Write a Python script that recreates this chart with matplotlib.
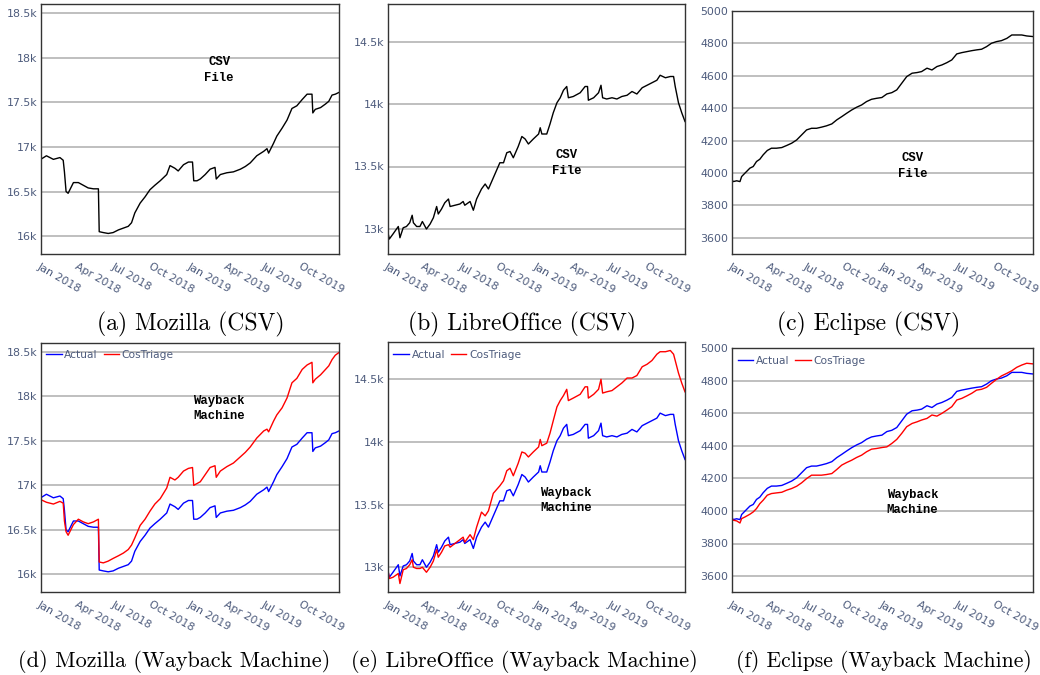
import matplotlib
matplotlib.use("Agg")
import matplotlib.pyplot as plt
import matplotlib.dates as mdates
import pandas as pd

# ---- data ----
moz_dates = ['2018-01-01', '2018-01-15', '2018-02-01', '2018-02-17', '2018-02-25', '2018-02-28',
             '2018-03-04', '2018-03-09', '2018-03-22', '2018-04-03', '2018-04-15', '2018-04-27',
             '2018-05-10', '2018-05-22', '2018-05-24', '2018-06-03', '2018-06-15', '2018-06-27',
             '2018-07-10', '2018-07-22', '2018-08-03', '2018-08-11', '2018-08-19', '2018-09-01',
             '2018-09-13', '2018-09-25', '2018-10-07', '2018-10-20', '2018-11-05', '2018-11-13',
             '2018-11-25', '2018-12-03', '2018-12-16', '2018-12-28', '2019-01-07', '2019-01-10',
             '2019-01-18', '2019-01-26', '2019-02-07', '2019-02-19', '2019-03-03', '2019-03-06',
             '2019-03-16', '2019-04-01', '2019-04-17', '2019-05-04', '2019-05-16', '2019-05-28',
             '2019-06-13', '2019-06-30', '2019-07-08', '2019-07-12', '2019-07-24', '2019-08-01',
             '2019-08-14', '2019-08-26', '2019-09-07', '2019-09-19', '2019-10-02', '2019-10-14',
             '2019-10-26', '2019-10-28', '2019-11-03', '2019-11-16', '2019-11-28', '2019-12-06',
             '2019-12-14', '2019-12-22', '2019-12-31']
moz_actual = [16860, 16900, 16860, 16880, 16850, 16720, 16500, 16480, 16600, 16600, 16570, 16540,
              16530, 16530, 16050, 16040, 16030, 16040, 16070, 16090, 16110, 16150, 16260, 16370,
              16440, 16520, 16570, 16620, 16690, 16790, 16760, 16730, 16800, 16830, 16830, 16620,
              16620, 16640, 16690, 16750, 16770, 16640, 16690, 16710, 16720, 16750, 16780, 16820,
              16900, 16950, 16980, 16930, 17040, 17120, 17210, 17300, 17430, 17460, 17530, 17590,
              17590, 17380, 17420, 17440, 17480, 17510, 17580, 17590, 17610]
moz_costriage = [16840, 16810, 16790, 16820, 16800, 16600, 16480, 16440, 16560, 16620, 16590, 16570,
                 16590, 16620, 16140, 16130, 16150, 16180, 16210, 16240, 16280, 16330, 16410, 16550,
                 16620, 16710, 16790, 16850, 16970, 17090, 17060, 17090, 17160, 17190, 17200, 17000,
                 17020, 17040, 17120, 17200, 17220, 17090, 17160, 17210, 17250, 17320, 17370, 17430,
                 17530, 17610, 17630, 17600, 17720, 17790, 17870, 17980, 18150, 18200, 18300, 18350,
                 18380, 18150, 18190, 18240, 18300, 18340, 18410, 18460, 18490]

lo_dates = ['2018-01-01', '2018-01-05', '2018-01-14', '2018-01-27', '2018-01-31', '2018-02-08',
            '2018-02-16', '2018-02-24', '2018-03-02', '2018-03-05', '2018-03-13', '2018-03-21',
            '2018-03-27', '2018-04-06', '2018-04-15', '2018-04-23', '2018-05-01', '2018-05-05',
            '2018-05-13', '2018-05-21', '2018-05-30', '2018-06-03', '2018-06-15', '2018-06-27',
            '2018-07-05', '2018-07-09', '2018-07-22', '2018-07-30', '2018-08-07', '2018-08-19',
            '2018-08-28', '2018-09-05', '2018-09-17', '2018-10-03', '2018-10-12', '2018-10-20',
            '2018-10-28', '2018-11-05', '2018-11-17', '2018-11-26', '2018-12-04', '2018-12-12',
            '2018-12-24', '2019-01-06', '2019-01-10', '2019-01-14', '2019-01-26', '2019-02-03',
            '2019-02-11', '2019-02-20', '2019-02-28', '2019-03-08', '2019-03-16', '2019-03-20',
            '2019-04-01', '2019-04-18', '2019-04-30', '2019-05-06', '2019-05-08', '2019-05-21',
            '2019-06-02', '2019-06-08', '2019-06-12', '2019-06-22', '2019-07-05', '2019-07-17',
            '2019-07-29', '2019-08-11', '2019-08-23', '2019-09-04', '2019-09-17', '2019-09-29',
            '2019-10-11', '2019-10-23', '2019-10-31', '2019-11-13', '2019-11-25', '2019-12-03',
            '2019-12-07', '2019-12-15', '2019-12-23', '2019-12-31']
lo_actual = [12980, 12920, 12960, 13020, 12930, 13010, 13020, 13050, 13110, 13050, 13020, 13020,
             13060, 13000, 13040, 13090, 13180, 13120, 13160, 13210, 13240, 13180, 13190, 13200,
             13220, 13190, 13220, 13150, 13240, 13320, 13360, 13320, 13410, 13530, 13530, 13610,
             13620, 13570, 13660, 13740, 13720, 13680, 13720, 13760, 13810, 13760, 13760, 13840,
             13930, 14010, 14050, 14110, 14140, 14050, 14060, 14090, 14140, 14140, 14030, 14050,
             14090, 14150, 14050, 14040, 14050, 14040, 14060, 14070, 14100, 14080, 14130, 14150,
             14170, 14190, 14230, 14210, 14220, 14220, 14140, 14010, 13930, 13860]
lo_costriage = [12990, 12910, 12920, 12950, 12870, 12980, 12990, 13020, 13060, 13000, 12990, 12990,
                13000, 12960, 13000, 13050, 13140, 13080, 13120, 13170, 13180, 13160, 13190, 13220,
                13240, 13200, 13260, 13220, 13320, 13440, 13410, 13450, 13590, 13650, 13690, 13770,
                13790, 13730, 13830, 13920, 13910, 13880, 13920, 13960, 14020, 13970, 13990, 14070,
                14170, 14280, 14330, 14370, 14420, 14330, 14350, 14380, 14440, 14440, 14350, 14380,
                14420, 14500, 14390, 14400, 14410, 14440, 14470, 14510, 14510, 14530, 14600, 14620,
                14650, 14700, 14720, 14720, 14730, 14700, 14650, 14550, 14470, 14400]

ecl_dates = ['2018-01-01', '2018-01-05', '2018-01-13', '2018-01-21', '2018-01-25', '2018-02-02',
             '2018-02-14', '2018-02-22', '2018-03-02', '2018-03-10', '2018-03-18', '2018-03-28',
             '2018-04-07', '2018-04-19', '2018-05-02', '2018-05-14', '2018-05-26', '2018-06-07',
             '2018-06-19', '2018-07-01', '2018-07-13', '2018-07-25', '2018-08-06', '2018-08-18',
             '2018-08-31', '2018-09-12', '2018-09-24', '2018-10-06', '2018-10-18', '2018-10-30',
             '2018-11-11', '2018-11-23', '2018-12-05', '2018-12-17', '2018-12-30', '2019-01-11',
             '2019-01-23', '2019-02-04', '2019-02-16', '2019-02-28', '2019-03-13', '2019-03-25',
             '2019-04-05', '2019-04-18', '2019-04-30', '2019-05-12', '2019-05-24', '2019-06-05',
             '2019-06-17', '2019-06-29', '2019-07-11', '2019-07-23', '2019-08-04', '2019-08-16',
             '2019-08-28', '2019-09-09', '2019-09-21', '2019-10-03', '2019-10-15', '2019-10-28',
             '2019-11-09', '2019-11-21', '2019-12-03', '2019-12-15', '2019-12-31']
ecl_actual = [3958, 3947, 3952, 3947, 3978, 3999, 4030, 4040, 4071, 4085, 4112, 4139,
              4153, 4153, 4157, 4170, 4184, 4204, 4235, 4266, 4276, 4276, 4283, 4291,
              4303, 4328, 4348, 4369, 4389, 4406, 4420, 4441, 4455, 4461, 4466, 4488,
              4496, 4513, 4554, 4595, 4616, 4620, 4626, 4647, 4636, 4657, 4667, 4681,
              4698, 4735, 4743, 4749, 4755, 4760, 4764, 4780, 4801, 4811, 4817, 4831,
              4852, 4852, 4852, 4846, 4842]
ecl_costriage = [3953, 3943, 3939, 3926, 3953, 3963, 3980, 3994, 4015, 4045, 4066, 4097,
                 4107, 4111, 4115, 4128, 4138, 4152, 4173, 4199, 4220, 4220, 4220, 4224,
                 4230, 4255, 4282, 4298, 4312, 4329, 4343, 4364, 4380, 4384, 4390, 4394,
                 4415, 4440, 4477, 4518, 4538, 4548, 4559, 4569, 4590, 4583, 4600, 4620,
                 4641, 4682, 4692, 4707, 4723, 4743, 4748, 4760, 4785, 4809, 4830, 4846,
                 4862, 4883, 4897, 4908, 4904]

captions = ['(a) Mozilla (CSV)', '(b) LibreOffice (CSV)', '(c) Eclipse (CSV)',
            '(d) Mozilla (Wayback Machine)', '(e) LibreOffice (Wayback Machine)',
            '(f) Eclipse (Wayback Machine)']

W, H = 1040, 675
TICK = '#4d5b7c'
fig = plt.figure(figsize=(W / 100, H / 100), dpi=100)


def box(l, t, r, b):
    return [l / W, 1 - b / H, (r - l) / W, (b - t) / H]


def kfmt(v, pos):
    s = '%g' % (v / 1000)
    return s + 'k'


def panel(rect, dates, actual, costriage, ylim, yticks, kilo, note, note_xy, leg_xy):
    ax = fig.add_axes(box(*rect))
    x = pd.to_datetime(dates)
    if costriage is None:
        ax.plot(x, actual, color='black', lw=1.0)
    else:
        ax.plot(x, actual, color='#0000ff', lw=1.0, label='Actual')
        ax.plot(x, costriage, color='#ff0000', lw=1.0, label='CosTriage')
        leg = ax.legend(loc='upper left', bbox_to_anchor=leg_xy, ncol=2, frameon=False,
                        fontsize=7.7, handlelength=1.45, handletextpad=0.25,
                        columnspacing=0.55, borderpad=0, borderaxespad=0)
        for t in leg.get_texts():
            t.set_color(TICK)
    ax.set_xlim(pd.Timestamp('2018-01-01'), pd.Timestamp('2019-12-31'))
    ax.set_ylim(*ylim)
    ax.set_yticks(yticks)
    if kilo:
        ax.yaxis.set_major_formatter(plt.FuncFormatter(kfmt))
    ax.xaxis.set_major_locator(mdates.MonthLocator(bymonth=[1, 4, 7, 10]))
    ax.xaxis.set_major_formatter(mdates.DateFormatter('%b %Y'))
    ax.grid(axis='y', color='#b4b4b4', lw=1.2)
    ax.set_axisbelow(True)
    ax.tick_params(axis='both', length=0, labelsize=7.9, labelcolor=TICK)
    ax.tick_params(axis='y', pad=2.5)
    ax.tick_params(axis='x', pad=5)
    for lab in ax.get_xticklabels():
        lab.set_rotation(-30)
        lab.set_ha('left')
        lab.set_va('top')
        lab.set_rotation_mode('anchor')
    for s in ax.spines.values():
        s.set_color('#333333')
        s.set_linewidth(1.0)
    ax.text(note_xy[0], note_xy[1], note, transform=ax.transAxes, ha='center', va='center',
            family='Liberation Mono', weight='bold', fontsize=8.8, linespacing=1.35)
    return ax


panel((40.7, 4, 339, 254), moz_dates, moz_actual, None, (15800, 18600),
      [16000, 16500, 17000, 17500, 18000, 18500], True, 'CSV\nFile', (0.598, 0.736), None)
panel((387.7, 4, 685, 254), lo_dates, lo_actual, None, (12800, 14800),
      [13000, 13500, 14000, 14500], True, 'CSV\nFile', (0.602, 0.364), None)
panel((731.7, 11, 1033.3, 254), ecl_dates, ecl_actual, None, (3500, 5000),
      [3600, 3800, 4000, 4200, 4400, 4600, 4800, 5000], False, 'CSV\nFile', (0.600, 0.362), None)
panel((40.7, 342.7, 339, 592.3), moz_dates, moz_actual, moz_costriage, (15800, 18600),
      [16000, 16500, 17000, 17500, 18000, 18500], True, 'Wayback\nMachine', (0.598, 0.738),
      (0.018, 0.972))
panel((387.7, 341.7, 685, 592.3), lo_dates, lo_actual, lo_costriage, (12800, 14800),
      [13000, 13500, 14000, 14500], True, 'Wayback\nMachine', (0.600, 0.366), (0.019, 0.968))
panel((731.7, 348.3, 1033.3, 592.3), ecl_dates, ecl_actual, ecl_costriage, (3500, 5000),
      [3600, 3800, 4000, 4200, 4400, 4600, 4800, 5000], False, 'Wayback\nMachine',
      (0.600, 0.368), (0.02, 0.97))

cap_xy = [(191, 324.7), (522, 324.7), (869, 324.7), (174, 661.7), (524, 661.7), (884, 661.7)]
cap_size = [17, 17, 17, 16, 16, 15.5]
for (cx, cy), txt, fs in zip(cap_xy, captions, cap_size):
    fig.text(cx / W, 1 - cy / H, txt, ha='center', va='center', family='cmr10', fontsize=fs)

fig.savefig('out.png', dpi=100)
